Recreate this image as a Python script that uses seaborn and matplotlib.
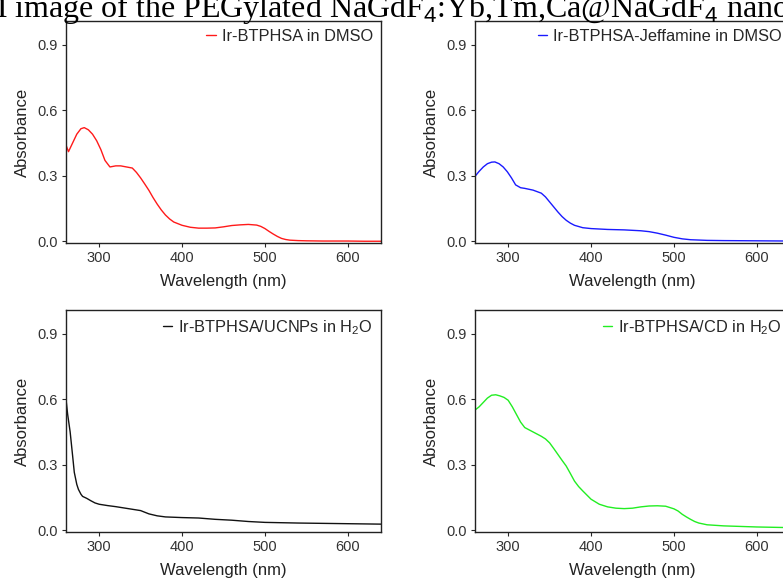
import numpy as np
import pandas as pd
import seaborn as sns
import matplotlib
matplotlib.use("Agg")
import matplotlib.pyplot as plt

# ---- data (wavelength in nm, absorbance) ----
wl_red = [260, 263, 268, 273, 278, 282, 287, 292, 297, 302, 307, 313, 320, 326, 333, 340, 345, 350,
          355, 360, 365, 370, 375, 380, 385, 390, 400, 410, 420, 430, 440, 450, 460, 470, 480, 490,
          495, 500, 505, 510, 515, 520, 525, 530, 540, 550, 570, 600, 620, 640]
abs_red = [0.44, 0.41, 0.45, 0.49, 0.515, 0.52, 0.51, 0.49, 0.46, 0.42, 0.37, 0.34, 0.345, 0.345, 0.34,
           0.335, 0.315, 0.29, 0.262, 0.233, 0.20, 0.17, 0.143, 0.12, 0.102, 0.088, 0.073, 0.064, 0.06,
           0.06, 0.061, 0.066, 0.072, 0.075, 0.077, 0.074, 0.068, 0.058, 0.045, 0.033, 0.022, 0.013,
           0.008, 0.005, 0.003, 0.002, 0.001, 0.001, 0.0, 0.0]

wl_blue = [260, 265, 270, 275, 280, 284, 289, 294, 299, 304, 309, 315, 320, 330, 340, 345, 350, 355,
           360, 365, 370, 375, 380, 390, 400, 420, 440, 460, 470, 480, 490, 500, 510, 520, 540, 560,
           600, 640]
abs_blue = [0.297, 0.32, 0.34, 0.355, 0.362, 0.363, 0.355, 0.34, 0.318, 0.29, 0.258, 0.245, 0.242,
            0.234, 0.22, 0.203, 0.18, 0.157, 0.134, 0.113, 0.096, 0.083, 0.073, 0.062, 0.058, 0.054,
            0.052, 0.048, 0.044, 0.037, 0.028, 0.018, 0.011, 0.007, 0.004, 0.003, 0.002, 0.001]

wl_black = [260, 262, 265, 268, 270, 273, 275, 278, 280, 285, 290, 295, 300, 310, 320, 330, 340, 350,
            360, 370, 380, 400, 420, 440, 460, 480, 500, 540, 580, 620, 640]
abs_black = [0.60, 0.53, 0.45, 0.34, 0.265, 0.21, 0.187, 0.165, 0.155, 0.146, 0.135, 0.125, 0.119,
             0.113, 0.108, 0.102, 0.096, 0.09, 0.075, 0.066, 0.061, 0.058, 0.056, 0.05, 0.046, 0.04,
             0.036, 0.033, 0.031, 0.029, 0.028]

wl_green = [260, 265, 270, 275, 280, 285, 290, 295, 300, 305, 310, 315, 320, 330, 340, 345, 350, 355,
            360, 365, 370, 375, 380, 385, 390, 400, 410, 420, 430, 440, 450, 460, 470, 480, 490, 500,
            505, 510, 515, 520, 525, 530, 540, 560, 600, 640]
abs_green = [0.55, 0.565, 0.585, 0.605, 0.618, 0.62, 0.615, 0.608, 0.595, 0.565, 0.53, 0.495, 0.47,
             0.45, 0.43, 0.418, 0.40, 0.374, 0.347, 0.32, 0.294, 0.26, 0.225, 0.2, 0.18, 0.142, 0.119,
             0.107, 0.101, 0.099, 0.101, 0.107, 0.111, 0.112, 0.11, 0.098, 0.088, 0.073, 0.061, 0.05,
             0.04, 0.033, 0.025, 0.02, 0.015, 0.012]

labels = ["Ir-BTPHSA in DMSO", "Ir-BTPHSA-Jeffamine in DMSO",
          "Ir-BTPHSA/UCNPs in H$_2$O", "Ir-BTPHSA/CD in H$_2$O"]
colors = ["#ff1a1a", "#1a1aff", "#111111", "#22ee22"]
series = [(wl_red, abs_red), (wl_blue, abs_blue), (wl_black, abs_black), (wl_green, abs_green)]

sns.set_theme(style="ticks")
plt.rcParams["font.family"] = ["Liberation Sans", "DejaVu Sans"]
plt.rcParams["mathtext.fontset"] = "custom"
plt.rcParams["mathtext.rm"] = "Liberation Sans"
plt.rcParams["mathtext.it"] = "Liberation Sans:italic"

fig = plt.figure(figsize=(7.83, 5.80), dpi=100)
W, H = 783.0, 580.0
# axes boxes in pixels: left, top, width, height
boxes = [(66, 21, 315, 222), (475, 21, 315, 222), (66, 310, 315, 222), (475, 310, 315, 222)]

for (x, y), lab, col, (l, t, w, h) in zip(series, labels, colors, boxes):
    ax = fig.add_axes([l / W, 1 - (t + h) / H, w / W, h / H])
    df = pd.DataFrame({"Wavelength": x, "Absorbance": y})
    sns.lineplot(data=df, x="Wavelength", y="Absorbance", ax=ax, color=col,
                 linewidth=1.0, label=lab)
    ax.set_xlim(260, 640)
    ax.set_ylim(-0.008, 1.008)
    ax.set_xticks([300, 400, 500, 600])
    ax.set_yticks([0.0, 0.3, 0.6, 0.9])
    ax.set_yticklabels(["0.0", "0.3", "0.6", "0.9"])
    ax.set_xlabel("Wavelength (nm)", fontsize=12, color="#222222", labelpad=6)
    ax.set_ylabel("Absorbance", fontsize=12, color="#222222", labelpad=5)
    ax.tick_params(axis="both", direction="out", length=3, width=0.8,
                   labelsize=10.5, labelcolor="#333333", pad=3)
    for s in ax.spines.values():
        s.set_linewidth(1.0)
        s.set_color("#222222")
    leg = ax.legend(loc="upper right", frameon=False, fontsize=11.8, handlelength=0.6,
                    handletextpad=0.35, borderaxespad=0.3, borderpad=0.2)
    for line in leg.get_lines():
        line.set_linewidth(1.0)

# cropped caption text from the page above the figure
fig.text(-22 / W, 1 - 17 / H, "M image of the PEGylated NaGdF$_4$:Yb,Tm,Ca@NaGdF$_4$ nano",
         fontsize=23, family="Liberation Serif", va="baseline", ha="left", color="black")

fig.savefig("out.png", dpi=100)
